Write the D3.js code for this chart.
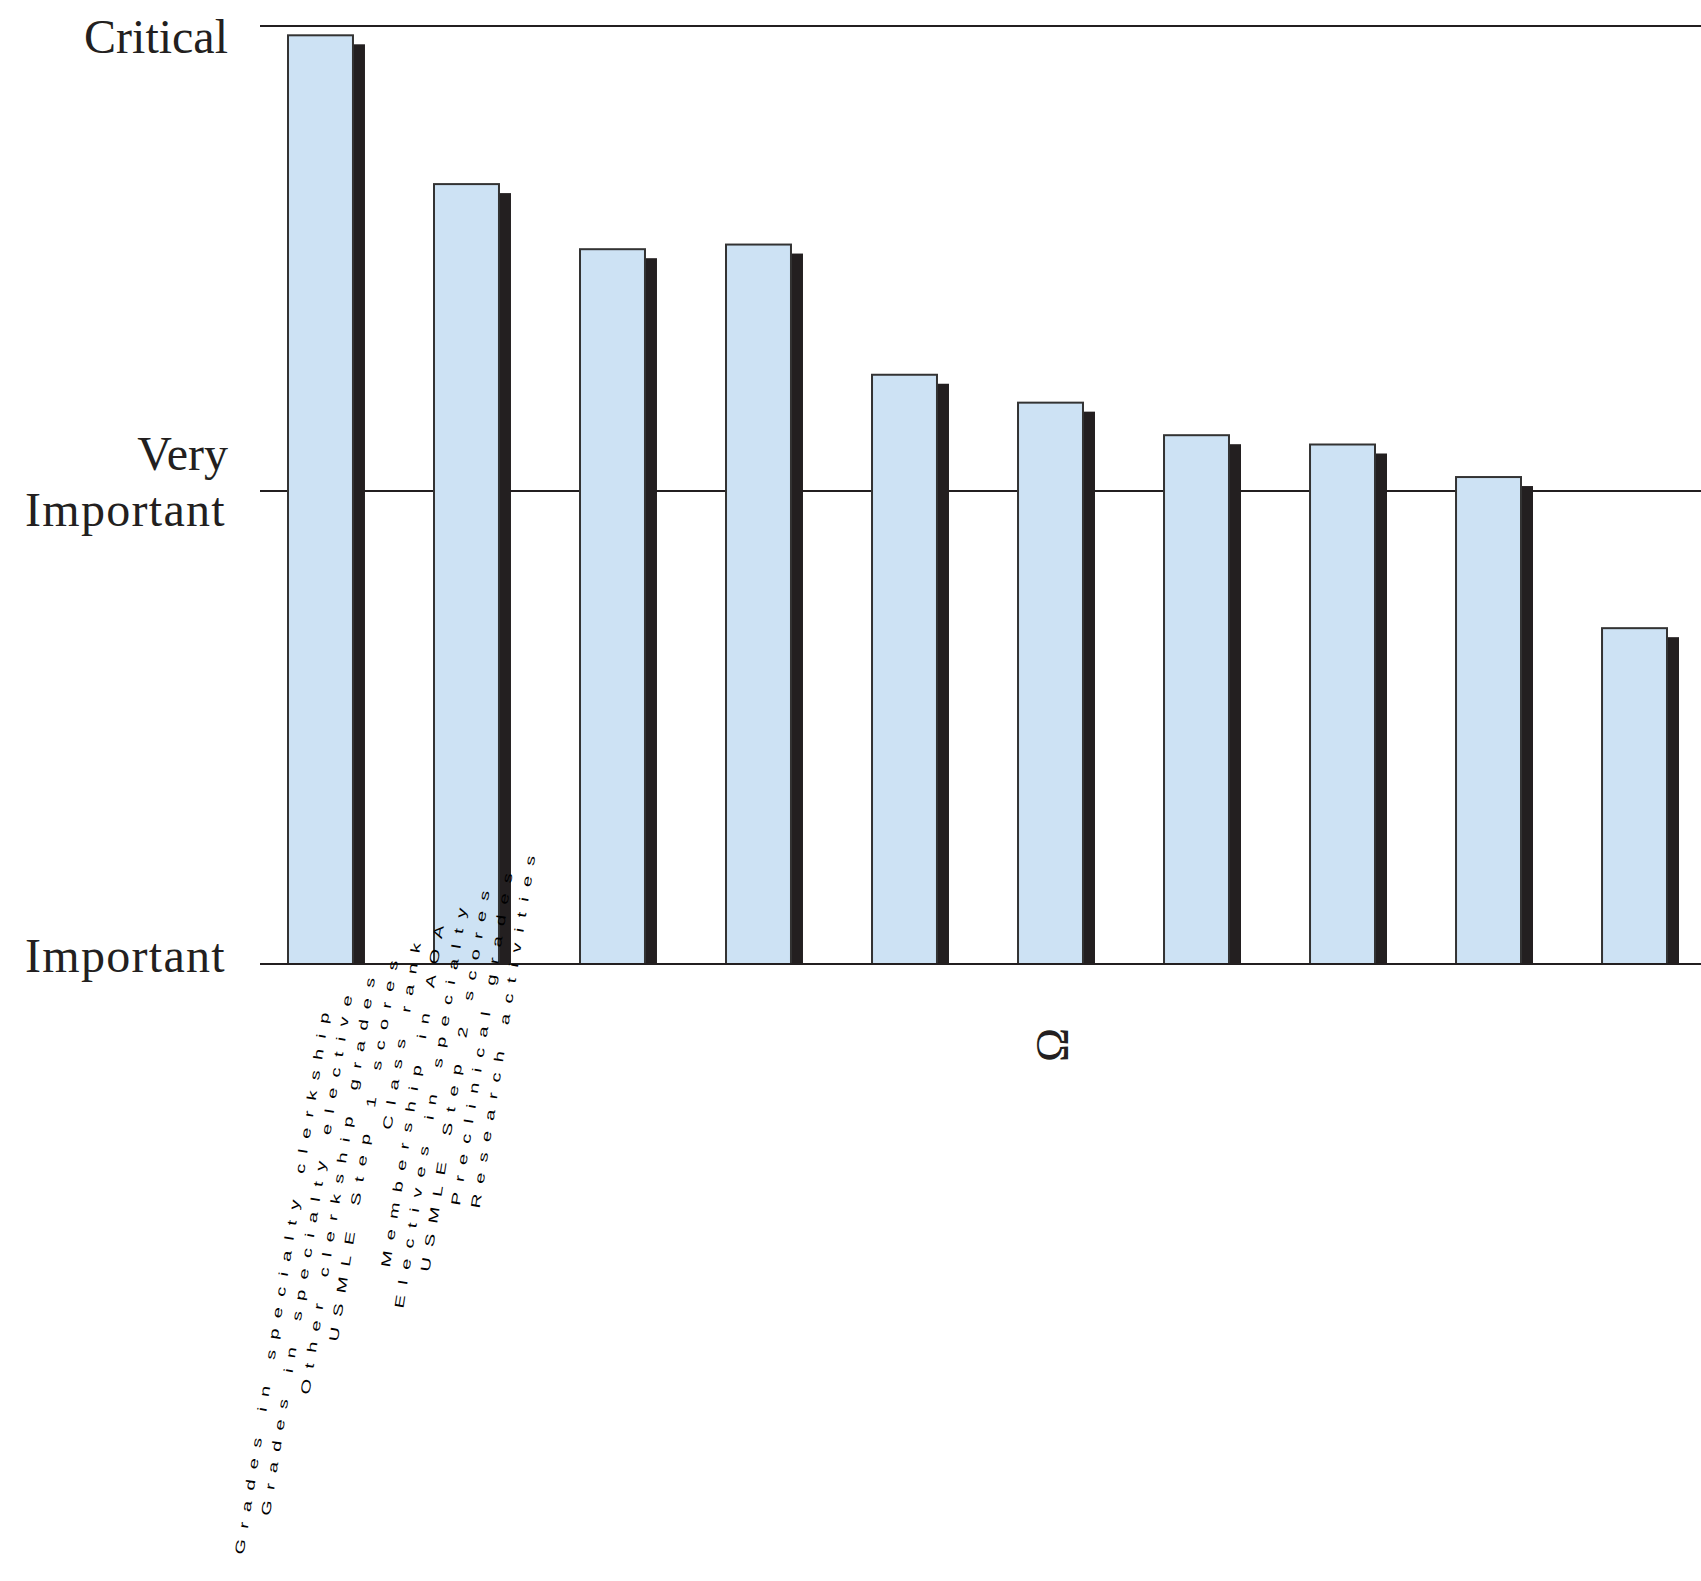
<!DOCTYPE html>
<html>
<head>
<meta charset="utf-8">
<script src="https://cdn.jsdelivr.net/npm/d3@7"></script>
<style>
  body { margin: 0; background: #fff; }
</style>
</head>
<body>
<div id="chart"></div>
<script>
// categories (rotated labels under the axis) and their importance rating
const categories = [
  "Grades in specialty clerkship",
  "Grades in specialty elective",
  "Other clerkship grades",
  "USMLE Step 1 scores",
  "Class rank",
  "Membership in AOA",
  "Electives in specialty",
  "USMLE Step 2 scores",
  "Preclinical grades",
  "Research activities"
];
const importance = [2.98, 2.66, 2.52, 2.53, 2.25, 2.19, 2.12, 2.10, 2.03, 1.71];

// rating scale levels and their labels
const levelValues = [1, 2, 3];
const levelLabels = [["Important"], ["Very", "Important"], ["Critical"]];

const width = 1701;
const height = 1581;

const svg = d3.select("#chart")
  .append("svg")
  .attr("width", width)
  .attr("height", height)
  .style("background", "#fff");

const y = d3.scaleLinear()
  .domain(levelValues)
  .range([964, 491, 26]);

const x = d3.scaleBand()
  .domain(categories)
  .range([288, 1667])
  .paddingInner(0.555)
  .paddingOuter(0)
  .align(0);

const ink = "#231f20";

// reference lines for each level (drawn behind the bars)
svg.append("g")
  .selectAll("line")
  .data(levelValues)
  .enter()
  .append("line")
  .attr("x1", 260)
  .attr("x2", width)
  .attr("y1", d => y(d))
  .attr("y2", d => y(d))
  .attr("stroke", ink)
  .attr("stroke-width", 2);

// level labels
const labelDy = { 1: [8], 2: [-21, 35], 3: [27] };
levelValues.forEach((v, i) => {
  levelLabels[i].forEach((line, j) => {
    const spaced = line === "Important";
    svg.append("text")
      .attr("x", spaced ? 226 : 228)
      .attr("y", y(v) + labelDy[v][j])
      .attr("text-anchor", "end")
      .style("font-family", "'Liberation Serif', 'Times New Roman', serif")
      .style("font-size", "48px")
      .style("letter-spacing", spaced ? "1.3px" : "0px")
      .style("fill", ink)
      .text(line);
  });
});

const data = categories.map((c, i) => ({ name: c, value: importance[i] }));

// shadows
svg.append("g")
  .selectAll("rect")
  .data(data)
  .enter()
  .append("rect")
  .attr("x", d => x(d.name) + 12)
  .attr("y", d => y(d.value) + 9)
  .attr("width", x.bandwidth())
  .attr("height", d => y(1) - y(d.value) - 9)
  .attr("fill", ink);

// bars
svg.append("g")
  .selectAll("rect")
  .data(data)
  .enter()
  .append("rect")
  .attr("x", d => x(d.name))
  .attr("y", d => y(d.value))
  .attr("width", x.bandwidth())
  .attr("height", d => y(1) - y(d.value))
  .attr("fill", "#cde2f4")
  .attr("stroke", "#333")
  .attr("stroke-width", 2);

// baseline on top
svg.append("line")
  .attr("x1", 260)
  .attr("x2", width)
  .attr("y1", y(1))
  .attr("y2", y(1))
  .attr("stroke", ink)
  .attr("stroke-width", 2);

// squeezed, steeply rotated category labels
const lx = d3.scalePoint().domain(categories).range([331, 537]);
const ly = d3.scalePoint().domain(categories).range([1003, 846]);

svg.append("g")
  .selectAll("text")
  .data(categories)
  .enter()
  .append("text")
  .attr("transform", d => `translate(${lx(d)},${ly(d)}) rotate(-81) scale(1.0,0.65)`)
  .attr("text-anchor", "end")
  .style("font-family", "'Liberation Sans', Arial, sans-serif")
  .style("font-size", "20px")
  .style("letter-spacing", "10.5px")
  .style("fill", "#000")
  .text(d => d);

// stray glyph under the plot
svg.append("text")
  .attr("transform", "translate(1052,1045) rotate(-90)")
  .attr("text-anchor", "middle")
  .attr("dominant-baseline", "central")
  .style("font-family", "'Liberation Serif', serif")
  .style("font-size", "46px")
  .style("fill", ink)
  .text("Ω");
</script>
</body>
</html>
